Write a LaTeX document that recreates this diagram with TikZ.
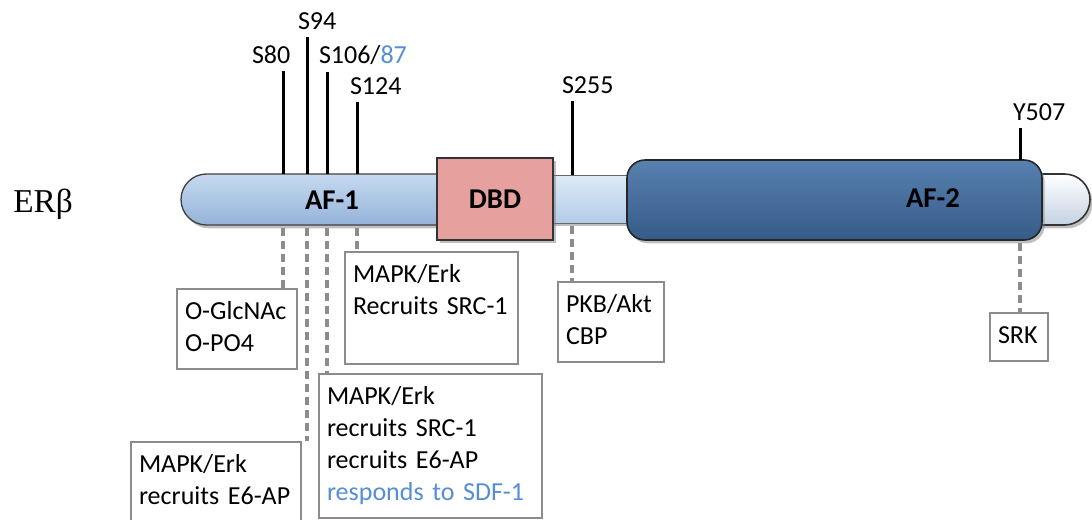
\documentclass[tikz,border=0pt]{standalone}
\usepackage{fontspec}
\setmainfont{Carlito}[WordSpace=0.6]
\newfontfamily\greekserif{Liberation Serif}
\usetikzlibrary{shapes.misc, shadows}

\definecolor{afone}{HTML}{A6C3E4}
\definecolor{afonetop}{HTML}{C6DAF0}
\definecolor{afonebot}{HTML}{94B3D9}
\definecolor{hinge}{HTML}{C6DBF1}
\definecolor{hingetop}{HTML}{DDEAF7}
\definecolor{hingebot}{HTML}{B3CCE8}
\definecolor{dbdpink}{HTML}{E6A19F}
\definecolor{aftwo}{HTML}{3F6897}
\definecolor{aftwotop}{HTML}{5880B0}
\definecolor{aftwobot}{HTML}{355B88}
\definecolor{capbot}{HTML}{C4D2E2}
\definecolor{linkgray}{HTML}{8C8C8C}
\definecolor{sdfblue}{HTML}{558ED5}

\begin{document}
\begin{tikzpicture}[x=0.75pt, y=-0.75pt,
    every node/.style={inner sep=0pt},
    barshadow/.style={drop shadow={shadow xshift=2pt, shadow yshift=-2.5pt, opacity=0.5}},
    af1bar/.style={rounded rectangle, rounded rectangle right arc=none, minimum width=202.5pt, minimum height=38.25pt,
        draw=black!75, line width=1pt, top color=afonetop, middle color=afone, bottom color=afonebot, barshadow},
    hingebar/.style={rectangle, minimum width=71.25pt, minimum height=36pt,
        draw=black!60, line width=0.6pt, top color=hingetop, middle color=hinge, bottom color=hingebot, barshadow},
    capbar/.style={rounded rectangle, rounded rectangle left arc=none, minimum width=45pt, minimum height=38.25pt,
        draw=black!80, line width=1.2pt, top color=white, middle color=white!85!hinge, bottom color=capbot, barshadow},
    dbdbox/.style={rectangle, minimum width=87pt, minimum height=61.5pt, draw=black!80, line width=1.6pt,
        fill=dbdpink, barshadow, font=\bfseries\fontsize{21.5}{24}\selectfont},
    af2box/.style={rectangle, rounded corners=13.5pt, minimum width=311.25pt, minimum height=60pt,
        draw=black!85, line width=1.2pt, top color=aftwotop, middle color=aftwo, bottom color=aftwobot, barshadow},
    domainlabel/.style={font=\bfseries\fontsize{21.5}{24}\selectfont},
    site/.style={anchor=base west, outer xsep=0pt, outer ysep=6pt, font=\fontsize{19.5}{24}\selectfont},
    sitetick/.style={line width=2.25pt},
    link/.style={draw=linkgray, line width=2.7pt, dash pattern=on 6pt off 3.75pt, shorten <=2pt},
    infobox/.style={draw=linkgray, line width=1.5pt, fill=white, anchor=north west, align=left,
        inner xsep=6pt, inner ysep=6pt, font=\fontsize{19.5}{24}\selectfont,
        execute at begin node=\strut, execute at end node=\strut}]
    \useasboundingbox (0,0) rectangle (1092,519);
    \clip (0,0) rectangle (1092,519);

    % backbone of the receptor
    \node[af1bar] (af1) at (316,199.5) {};
    \node[hingebar] (hinge) at (592,199) {};
    \node[capbar] (cap) at (1060,199.5) {};
    \node[dbdbox] (dbd) at (495,199) {DBD};
    \node[af2box] (af2) at (834.5,200) {};
    \node[domainlabel] (af1label) at (332,200) {AF-1};
    \node[domainlabel] (af2label) at (933,198) {AF-2};
    \node[anchor=base west, font=\greekserif\fontsize{25}{30}\selectfont] (erb) at (13,212) {ERβ};

    % modified residues
    \coordinate (s80) at (283,174);
    \coordinate (s94) at (307,174);
    \coordinate (s106) at (327,174);
    \coordinate (s124) at (357,174);
    \coordinate (s255) at (572,175);
    \coordinate (y507) at (1020,160);
    \node[site] (l80) at (252,63) {S80};
    \node[site] (l94) at (298,29) {S94};
    \node[site] (l106) at (319,63) {S106/\textcolor{sdfblue}{87}};
    \node[site] (l124) at (350,94) {S124};
    \node[site] (l255) at (562,93) {S255};
    \node[site] (l507) at (1013,120) {Y507};
    \draw[sitetick] (s80) -- (s80 |- l80.south);
    \draw[sitetick] (s94) -- (s94 |- l94.south);
    \draw[sitetick] (s106) -- (s106 |- l106.south);
    \draw[sitetick] (s124) -- (s124 |- l124.south);
    \draw[sitetick] (s255) -- (s255 |- l255.south);
    \draw[sitetick] (y507) -- (y507 |- l507.south);

    % kinases and partners
    \node[infobox, text width=78pt] (glc) at (176,288) {O-GlcNAc\\O-PO4};
    \node[infobox, text width=117.75pt] (src) at (344,251) {MAPK/Erk\\Recruits SRC-1\\};
    \node[infobox, text width=155.25pt] (sdf) at (318,373) {MAPK/Erk\\recruits SRC-1\\recruits E6-AP\\\textcolor{sdfblue}{responds to SDF-1}};
    \node[infobox, text width=115.5pt] (e6ap) at (130,441) {MAPK/Erk\\recruits E6-AP\\};
    \node[infobox, text width=67.5pt] (pkb) at (557,281) {PKB/Akt\\CBP};
    \node[infobox, text width=31.5pt] (srk) at (989,312) {SRK};

    % dashed links
    \draw[link] (s80 |- af1.south) -- (s80 |- glc.north);
    \draw[link] (s94 |- af1.south) -- (s94 |- e6ap.north);
    \draw[link] (s106 |- af1.south) -- (s106 |- sdf.north);
    \draw[link] (s124 |- af1.south) -- (s124 |- src.north);
    \draw[link] (s255 |- hinge.south) -- (s255 |- pkb.north);
    \draw[link] (y507 |- af2.south) -- (y507 |- srk.north);
\end{tikzpicture}
\end{document}
